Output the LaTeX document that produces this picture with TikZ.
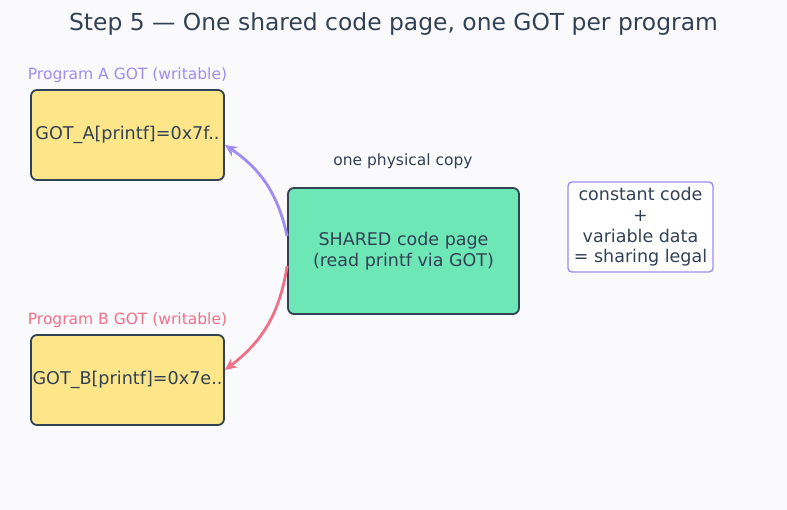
\documentclass[tikz,border=0pt]{standalone}
\usepackage{fontspec}
\setmainfont{DejaVu Sans}
\usetikzlibrary{arrows.meta}
\definecolor{bg}{HTML}{FAFAFD}
\definecolor{ink}{HTML}{334155}
\definecolor{gotfill}{HTML}{FDE68A}
\definecolor{sharedfill}{HTML}{6EE7B7}
\definecolor{purp}{HTML}{A08CF0}
\definecolor{pinkred}{HTML}{F07088}
\tikzset{
  gotbox/.style={draw=ink, line width=1.8pt, fill=gotfill, rounded corners=6pt, minimum width=193pt, minimum height=90pt, inner sep=0pt, font=\fontsize{17.6}{21}\selectfont, text=ink},
  sharedbox/.style={draw=ink, line width=1.8pt, fill=sharedfill, rounded corners=6pt, minimum width=231pt, minimum height=126pt, inner sep=0pt, align=center, font=\fontsize{17.5}{21}\selectfont, text=ink},
  notebox/.style={draw=purp, line width=1.4pt, fill=white, rounded corners=4pt, minimum width=145pt, minimum height=90pt, inner sep=0pt, align=center, font=\fontsize{17.5}{20.7}\selectfont, text=ink},
  lbl/.style={font=\fontsize{15.5}{18}\selectfont, inner sep=0pt},
  conn/.style={line width=2.8pt, -{Stealth[length=12pt,width=11pt]}},
}
\begin{document}
\begin{tikzpicture}[x=1pt,y=-1pt]
\fill[bg] (0,0) rectangle (787,510);
\useasboundingbox (0,0) rectangle (787,510);
\node[font=\fontsize{23.4}{26}\selectfont, text=ink] (title) at (393.5,24) {Step 5 — One shared code page, one GOT per program};
\node[lbl, text=purp] (labA) at (127.5,75) {Program A GOT (writable)};
\node[lbl, text=pinkred] (labB) at (127.5,320) {Program B GOT (writable)};
\node[lbl, text=ink] (copy) at (403,161) {one physical copy};
\node[gotbox] (gotA) at (127.5,135) {GOT\_A[printf]=0x7f..};
\node[gotbox] (gotB) at (127.5,380) {GOT\_B[printf]=0x7e..};
\node[sharedbox] (shared) at (403.5,251) {SHARED code page\\(read printf via GOT)};
\node[notebox] (note) at (640.5,227) {constant code\\+\\variable data\\= sharing legal};
\draw[conn, purp] (shared.west |- 0,236) to[bend right=22] (gotA.east |- 0,145);
\draw[conn, pinkred] (shared.west |- 0,266) to[bend left=22] (gotB.east |- 0,370);
\end{tikzpicture}
\end{document}
